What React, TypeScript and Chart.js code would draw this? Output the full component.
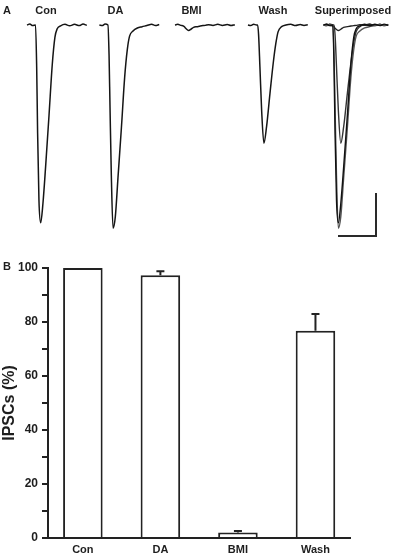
import React, { useEffect, useRef } from 'react';
import { Chart, registerables } from 'chart.js';

Chart.register(...registerables);

// ---------- Panel A: IPSC traces ----------
// shared sample times (ms from trace start)
const traceTimes = [0, 1.5, 3, 4.5, 5.1, 5.6, 6.3, 7.2, 8.4, 9.8, 11.6, 13.3, 14.7, 15.9, 17.7, 20, 22.5, 25, 27.5, 29.5, 31.5];
// currents (pA)
const conTrace = [0, 4, -3, 0, -194, -503, -814, -920, -830, -660, -420, -185, -58, -18, -4, 3, -4, 3, -3, 4, -2];
const daTrace = [0, -3, 4, 0, -140, -380, -700, -945, -891, -710, -478, -245, -115, -52, -28, -14, -8, -3, 3, -3, 2];
const bmiTrace = [0, 3, -2, -5, -10, -15, -21, -26, -20, -11, -8, -5, -3, -2, 1, -2, 3, -2, 2, -3, 1];
const washTrace = [0, -3, 3, 0, 0, -45, -194, -395, -550, -473, -318, -178, -85, -31, -8, 0, 3, -3, 2, -2, 1];
const traceLabels = ['Con', 'DA', 'BMI', 'Wash', 'Superimposed'];
const scaleBarTime = 20; // ms
const scaleBarCurrent = 200; // pA

// ---------- Panel B: bar chart ----------
const categories = ['Con', 'DA', 'BMI', 'Wash'];
const ipscMeans = [100, 97.3, 2.0, 76.8];
const ipscSem = [0, 1.5, 0.6, 6.2];
const yTickValues = [0, 10, 20, 30, 40, 50, 60, 70, 80, 90, 100];

// ---------- layout (not data) ----------
const FONT = '"Liberation Sans", Arial, Helvetica, sans-serif';
const TEXT = '#1e1e1e';
const A_W = 395;
const A_H = 245;
const A_XMAX = 207.9; // ms across panel A width
const A_YMIN = -1023;
const A_YMAX = 116;
const traceOffsets = [14.2, 52.3, 92.1, 130.5]; // ms
const supOffset = 170.3;
const supStretch = 1.08;
const scaleBarAnchor = { x: 197.9, y: -981 };
const labelCenters = [46, 115.5, 191.5, 273, 353];

const traces = [conTrace, daTrace, bmiTrace, washTrace];
const supColors = ['#111', '#555', '#222', '#333'];

function toPoints(trace: number[], offset: number, stretch: number) {
  return traceTimes.map((t, i) => ({ x: offset + t * stretch, y: trace[i] }));
}

const errorBarPlugin = {
  id: 'errorBars',
  afterDatasetsDraw(chart: any) {
    const { ctx, scales } = chart;
    const xs = scales.x;
    const ys = scales.y;
    ctx.save();
    ctx.strokeStyle = '#222';
    ctx.lineWidth = 2;
    ipscMeans.forEach((m, i) => {
      const e = ipscSem[i];
      if (!e) return;
      const x = xs.getPixelForValue(i + 1);
      const y0 = ys.getPixelForValue(m);
      const y1 = ys.getPixelForValue(m + e);
      ctx.beginPath();
      ctx.moveTo(x, y0);
      ctx.lineTo(x, y1);
      ctx.moveTo(x - 4, y1);
      ctx.lineTo(x + 4, y1);
      ctx.stroke();
    });
    ctx.restore();
  },
};

export default function App() {
  const refA = useRef<HTMLCanvasElement>(null);
  const refB = useRef<HTMLCanvasElement>(null);

  useEffect(() => {
    const prevMargin = document.body.style.margin;
    document.body.style.margin = '0';

    const datasetsA: any[] = [];
    traces.forEach((tr, i) => {
      datasetsA.push({
        data: toPoints(tr, traceOffsets[i], 1),
        borderColor: '#151515',
        borderWidth: 1.5,
        pointRadius: 0,
        cubicInterpolationMode: 'monotone',
      });
    });
    traces.forEach((tr, i) => {
      datasetsA.push({
        data: toPoints(tr, supOffset, supStretch),
        borderColor: supColors[i],
        borderWidth: 1.4,
        pointRadius: 0,
        cubicInterpolationMode: 'monotone',
      });
    });
    datasetsA.push({
      data: [
        { x: scaleBarAnchor.x - scaleBarTime, y: scaleBarAnchor.y },
        { x: scaleBarAnchor.x, y: scaleBarAnchor.y },
        { x: scaleBarAnchor.x, y: scaleBarAnchor.y + scaleBarCurrent },
      ],
      borderColor: '#2a2a2a',
      borderWidth: 2,
      pointRadius: 0,
      tension: 0,
    });

    const chartA = new Chart(refA.current!, {
      type: 'line',
      data: { datasets: datasetsA },
      options: {
        animation: false,
        responsive: false,
        layout: { padding: 0 },
        plugins: { legend: { display: false }, tooltip: { enabled: false } },
        scales: {
          x: { type: 'linear', min: 0, max: A_XMAX, display: false },
          y: { type: 'linear', min: A_YMIN, max: A_YMAX, display: false },
        },
      },
    });

    const chartB = new Chart(refB.current!, {
      type: 'bar',
      data: {
        datasets: [
          {
            data: categories.map((c, i) => ({ x: i + 1, y: ipscMeans[i] })),
            backgroundColor: '#ffffff',
            borderColor: '#222',
            borderWidth: 2,
            barPercentage: 0.51,
            categoryPercentage: 1,
          },
        ],
      },
      options: {
        animation: false,
        responsive: false,
        layout: { padding: { top: 18, right: 45, left: 0, bottom: 0 } },
        plugins: { legend: { display: false }, tooltip: { enabled: false } },
        scales: {
          x: {
            type: 'linear',
            offset: false,
            min: 0.5504,
            max: 4.4454,
            afterBuildTicks: (axis: any) => {
              axis.ticks = categories.map((_, i) => ({ value: i + 1 }));
            },
            afterFit: (s: any) => {
              s.height = 15;
            },
            grid: { display: false, drawTicks: false, offset: false },
            border: { display: true, color: '#222', width: 2 },
            ticks: {
              callback: (v: any) => categories[Math.round(v) - 1] ?? '',
              font: { family: FONT, size: 11, weight: 'bold' },
              color: TEXT,
              padding: 5,
              autoSkip: false,
              maxRotation: 0,
            },
          },
          y: {
            min: 0,
            max: 100,
            afterBuildTicks: (axis: any) => {
              axis.ticks = yTickValues.map((v) => ({ value: v }));
            },
            afterFit: (s: any) => {
              s.width = 48;
            },
            grid: { drawOnChartArea: false, drawTicks: true, tickLength: 6, color: '#222', lineWidth: 2 },
            border: { display: true, color: '#222', width: 2 },
            ticks: {
              callback: (v: any) => (v % 20 === 0 ? String(v) : ''),
              font: { family: FONT, size: 12, weight: 'bold' },
              color: TEXT,
              padding: 4,
              autoSkip: false,
            },
            title: {
              display: true,
              text: 'IPSCs (%)',
              font: { family: FONT, size: 16, weight: 'bold' },
              color: TEXT,
              padding: { top: 0, bottom: 0 },
            },
          },
        },
      },
      plugins: [errorBarPlugin],
    });

    return () => {
      chartA.destroy();
      chartB.destroy();
      document.body.style.margin = prevMargin;
    };
  }, []);

  const labelStyle: React.CSSProperties = {
    position: 'absolute',
    top: 5,
    font: `bold 11px ${FONT}`,
    lineHeight: '11px',
    color: TEXT,
    whiteSpace: 'nowrap',
    transform: 'translateX(-50%)',
  };

  return (
    <div style={{ position: 'absolute', left: 0, top: 0, width: 395, height: 553, background: '#fff', overflow: 'hidden' }}>
      <canvas ref={refA} width={A_W} height={A_H} style={{ position: 'absolute', left: 0, top: 0, width: A_W, height: A_H }} />
      <canvas ref={refB} width={395} height={303} style={{ position: 'absolute', left: 0, top: 250, width: 395, height: 303 }} />
      <div style={{ position: 'absolute', left: 3, top: 5, font: `bold 11px ${FONT}`, lineHeight: '11px', color: TEXT }}>A</div>
      <div style={{ position: 'absolute', left: 3, top: 261, font: `bold 11px ${FONT}`, lineHeight: '11px', color: TEXT }}>B</div>
      {traceLabels.map((t, i) => (
        <div key={t} style={{ ...labelStyle, left: labelCenters[i] }}>
          {t}
        </div>
      ))}
    </div>
  );
}
